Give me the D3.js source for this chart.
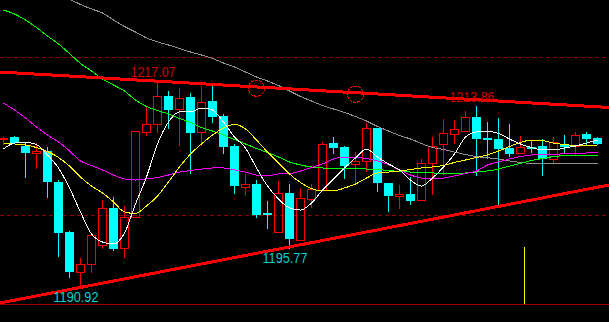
<!DOCTYPE html>
<html>
<head>
<meta charset="utf-8">
<script src="https://cdn.jsdelivr.net/npm/d3@7/dist/d3.min.js"></script>
<style>
	html, body { margin: 0; padding: 0; background: #000; overflow: hidden; }
	svg { display: block; }
</style>
</head>
<body>
<svg id="chart" width="609" height="322"></svg>
<script>

// candle data (oldest -> newest)
var opens = [1209.62,1209.91,1208.73,1207.89,1208.10,1204.18,1197.85,1192.82,1193.76,1196.20,
	1200.85,1195.79,1199.71,1210.47,1211.48,1215.06,1213.38,1214.90,1210.47,1214.43,
	1212.53,1208.73,1203.58,1203.92,1200.29,1197.89,1202.78,1196.88,1202.06,1203.16,
	1209.07,1208.65,1206.42,1206.84,1211.05,1204.01,1202.44,1202.66,1201.86,1206.62,
	1208.95,1210.25,1210.67,1212.37,1209.78,1209.66,1208.52,1207.81,1208.65,1208.73,
	1207.09,1208.99,1208.77,1210.25,1209.78];
var highs = [1209.87,1210.04,1209.15,1209.07,1208.65,1204.43,1197.97,1194.60,1197.47,1201.90,
	1202.24,1201.14,1210.63,1213.71,1217.07,1215.70,1216.04,1215.40,1216.33,1216.33,
	1212.75,1208.99,1205.19,1204.43,1201.77,1204.30,1203.92,1203.25,1203.89,1209.28,
	1209.91,1208.73,1207.94,1211.68,1211.05,1204.01,1203.80,1204.85,1207.09,1209.83,
	1212.15,1212.02,1213.20,1213.86,1211.73,1212.28,1211.52,1210.00,1209.49,1209.66,
	1209.87,1210.12,1210.54,1210.47,1209.91];
var lows = [1208.99,1209.11,1204.85,1205.99,1202.32,1194.81,1192.19,1190.92,1192.82,1195.86,
	1195.57,1194.72,1199.71,1210.12,1210.47,1211.05,1208.82,1205.28,1208.86,1211.81,
	1207.81,1202.82,1202.62,1199.78,1198.39,1197.89,1195.77,1196.88,1201.05,1203.16,
	1207.81,1204.65,1204.09,1205.57,1203.04,1200.51,1200.85,1201.35,1201.86,1202.62,
	1205.19,1209.15,1210.67,1205.06,1207.25,1201.39,1207.47,1207.81,1207.94,1205.06,
	1206.55,1208.01,1207.68,1208.86,1208.95];
var closes = [1209.81,1209.15,1207.89,1208.10,1204.22,1197.76,1192.82,1193.76,1197.47,1200.85,
	1195.70,1199.78,1210.63,1211.48,1215.06,1213.29,1214.85,1210.42,1214.34,1212.44,
	1208.65,1203.71,1203.89,1199.96,1199.96,1202.75,1196.97,1202.11,1203.29,1208.95,
	1208.52,1206.24,1206.84,1211.01,1204.09,1202.44,1202.66,1201.77,1206.62,1208.77,
	1210.34,1210.89,1212.37,1209.66,1209.53,1208.35,1207.72,1208.61,1208.44,1207.09,
	1209.20,1208.61,1210.12,1209.62,1209.02];

// moving averages, one value per candle
var ma5 = [1208.35,1209.11,1209.18,1208.92,1207.60,1205.95,1203.42,1200.38,1197.60,1196.58,
	1196.33,1197.72,1201.39,1204.81,1208.99,1211.77,1213.04,1213.04,1213.54,1213.29,
	1211.77,1209.87,1208.48,1205.95,1203.67,1202.03,1200.89,1200.63,1201.52,1203.16,
	1204.56,1205.95,1207.22,1208.35,1207.34,1206.46,1205.70,1204.43,1203.67,1204.68,
	1206.08,1207.72,1209.87,1210.51,1210.57,1210.32,1209.62,1208.99,1208.54,1208.23,
	1208.23,1208.48,1208.73,1209.11,1209.49];
var ma10 = [1208.99,1208.99,1208.86,1208.54,1208.04,1207.28,1206.20,1204.81,1203.67,1202.78,
	1201.65,1200.38,1200.19,1201.14,1202.41,1204.18,1206.08,1207.72,1208.99,1210.12,
	1211.01,1211.46,1210.89,1209.49,1207.97,1206.58,1205.19,1204.11,1203.35,1203.04,
	1203.04,1203.42,1203.92,1204.68,1205.32,1205.44,1205.57,1205.76,1205.95,1206.08,
	1206.27,1206.65,1206.96,1207.28,1207.60,1208.10,1208.67,1209.18,1209.49,1209.43,
	1209.11,1208.92,1208.80,1208.86,1208.73];
var ma20 = [1214.18,1213.29,1212.28,1211.14,1210.12,1209.24,1208.10,1206.84,1206.27,1205.70,
	1205.06,1204.56,1204.43,1204.56,1204.75,1205.06,1205.44,1205.63,1205.82,1205.95,
	1205.95,1205.70,1205.44,1205.06,1204.94,1205.19,1205.25,1205.57,1206.01,1206.46,
	1207.09,1207.34,1207.28,1207.15,1206.84,1206.39,1205.70,1205.06,1204.68,1204.56,
	1204.68,1204.94,1205.25,1205.57,1206.33,1206.71,1207.09,1207.40,1207.60,1207.66,
	1207.68,1207.75,1207.81,1207.85,1207.94];
var ma30 = [1225.95,1225.44,1224.68,1223.73,1222.66,1221.65,1220.44,1219.18,1218.23,1217.22,
	1216.46,1215.70,1214.56,1213.73,1213.23,1212.79,1212.22,1211.71,1211.08,1210.63,
	1210.12,1209.56,1208.99,1208.42,1207.91,1207.34,1206.71,1206.33,1206.08,1205.95,
	1205.91,1205.91,1205.89,1205.82,1205.76,1205.63,1205.51,1205.44,1205.35,1205.32,
	1205.28,1205.28,1205.32,1205.44,1205.57,1205.82,1206.20,1206.52,1206.90,1207.15,
	1207.40,1207.51,1207.56,1207.56,1207.49];
var ma60 = [null,null,null,null,null,1228.10,1227.34,1226.65,1226.08,1225.57,
	1224.68,1223.86,1223.16,1222.41,1221.90,1221.52,1221.08,1220.63,1220.25,1219.81,
	1219.24,1218.73,1218.10,1217.47,1216.96,1216.39,1215.70,1215.00,1214.43,1213.86,
	1213.42,1212.97,1212.47,1211.90,1211.20,1210.63,1210.06,1209.62,1209.05,1208.54,
	1208.29,1207.97,1207.66,1207.40,1207.25,1207.09,1206.84,1206.65,1206.55,1206.55,
	1206.55,1206.55,1206.55,1206.55,1206.55];

// dashed price grid
var gridPrices = [1200, 1220];

// high / low labels
var markIndex = [14, 43, 26, 7];
var markText = ['1217.07', '1213.86', '1195.77', '1190.92'];
var markKind = ['high', 'high', 'low', 'low'];

// hand drawn trend lines: [candle index, price]
var trendUpper = [[-0.32, 1218.10], [55.05, 1213.61]];
var trendLower = [[-0.32, 1188.86], [55.05, 1203.80]];

// red circles on the upper trend line
var circleIndex = [23, 32];
var circlePrice = [1216.04, 1215.28];

// yellow cursor line
var cursorIndex = [47.32];
var cursorPrice = [1195.95];

var createChart = function (id) {

	var W = 609, H = 322, bottom = 304;
	var svg = d3.select(id);

	svg.append('rect')
		.attr('width', W)
		.attr('height', H)
		.attr('fill', '#000');

	svg.append('clipPath')
		.attr('id', 'plotClip')
		.append('rect')
		.attr('x', 0).attr('y', 0)
		.attr('width', W).attr('height', bottom);

	var n = closes.length;
	var x = d3.scaleLinear().domain([0, n - 1]).range([3.5, 3.5 + 11 * (n - 1)]);
	var y = d3.scaleLinear().domain([1200, 1220]).range([215, 57]);

	var candles = d3.range(n).map(function (i) {
		return { i: i, o: opens[i], h: highs[i], l: lows[i], c: closes[i], up: closes[i] >= opens[i] };
	});

	var crisp = function (v) { return Math.round(v) + 0.5; };

	// grid
	svg.selectAll('line.grid')
		.data(gridPrices)
		.enter()
		.append('line')
		.attr('class', 'grid')
		.attr('x1', 0).attr('x2', W)
		.attr('y1', function (d) { return crisp(y(d)); })
		.attr('y2', function (d) { return crisp(y(d)); })
		.attr('stroke', '#900000')
		.attr('stroke-dasharray', '4,3');

	// bottom frame line
	svg.append('line')
		.attr('x1', 0).attr('x2', W)
		.attr('y1', bottom + 0.5).attr('y2', bottom + 0.5)
		.attr('stroke', '#a00000');

	var plot = svg.append('g').attr('clip-path', 'url(#plotClip)');

	// wicks
	var up = candles.filter(function (d) { return d.up; });
	var down = candles.filter(function (d) { return !d.up; });

	plot.selectAll('line.wickTop')
		.data(up)
		.enter()
		.append('line')
		.attr('x1', function (d) { return x(d.i); })
		.attr('x2', function (d) { return x(d.i); })
		.attr('y1', function (d) { return Math.round(y(d.h)); })
		.attr('y2', function (d) { return Math.round(y(d.c)); })
		.attr('stroke', '#ff0000');

	plot.selectAll('line.wickBottom')
		.data(up)
		.enter()
		.append('line')
		.attr('x1', function (d) { return x(d.i); })
		.attr('x2', function (d) { return x(d.i); })
		.attr('y1', function (d) { return Math.round(y(d.o)); })
		.attr('y2', function (d) { return Math.round(y(d.l)) + 1; })
		.attr('stroke', '#ff0000');

	plot.selectAll('line.wickDown')
		.data(down)
		.enter()
		.append('line')
		.attr('x1', function (d) { return x(d.i); })
		.attr('x2', function (d) { return x(d.i); })
		.attr('y1', function (d) { return Math.round(y(d.h)); })
		.attr('y2', function (d) { return Math.round(y(d.l)) + 1; })
		.attr('stroke', '#00ffff');

	// bodies: red hollow, cyan filled
	plot.selectAll('rect.up')
		.data(up)
		.enter()
		.append('rect')
		.attr('x', function (d) { return x(d.i) - 4; })
		.attr('y', function (d) { return crisp(y(d.c)); })
		.attr('width', 8)
		.attr('height', function (d) { return Math.max(1, Math.round(y(d.o)) - Math.round(y(d.c))); })
		.attr('fill', 'none')
		.attr('stroke', '#ff0000');

	plot.selectAll('rect.down')
		.data(down)
		.enter()
		.append('rect')
		.attr('x', function (d) { return x(d.i) - 4.5; })
		.attr('y', function (d) { return Math.round(y(d.o)); })
		.attr('width', 9)
		.attr('height', function (d) { return Math.max(2, Math.round(y(d.c)) - Math.round(y(d.o))); })
		.attr('fill', '#00ffff');

	// moving averages
	var maList = [
		{ v: ma60, color: '#909090' },
		{ v: ma30, color: '#00ff00' },
		{ v: ma20, color: '#ff00ff' },
		{ v: ma10, color: '#ffff00' },
		{ v: ma5, color: '#ffffff' }
	];

	var line = d3.line()
		.defined(function (d) { return d != null; })
		.x(function (d, i) { return x(i); })
		.y(function (d) { return y(d); })
		.curve(d3.curveMonotoneX);

	plot.selectAll('path.ma')
		.data(maList)
		.enter()
		.append('path')
		.attr('d', function (d) { return line(d.v); })
		.attr('fill', 'none')
		.attr('stroke', function (d) { return d.color; })
		.attr('stroke-width', 1)
		.attr('shape-rendering', 'crispEdges');

	// trend lines
	plot.selectAll('line.trend')
		.data([trendUpper, trendLower])
		.enter()
		.append('line')
		.attr('x1', function (d) { return x(d[0][0]); })
		.attr('y1', function (d) { return y(d[0][1]); })
		.attr('x2', function (d) { return x(d[1][0]); })
		.attr('y2', function (d) { return y(d[1][1]); })
		.attr('stroke', '#ff0000')
		.attr('stroke-width', 3)
		.attr('shape-rendering', 'crispEdges');

	plot.selectAll('circle.mark')
		.data(circleIndex)
		.enter()
		.append('circle')
		.attr('cx', function (d) { return x(d); })
		.attr('cy', function (d, i) { return y(circlePrice[i]); })
		.attr('r', 8)
		.attr('fill', 'none')
		.attr('stroke', '#ff0000')
		.attr('stroke-dasharray', '3,1')
		.attr('shape-rendering', 'crispEdges');

	// cursor
	svg.selectAll('line.cursor')
		.data(cursorIndex)
		.enter()
		.append('line')
		.attr('x1', function (d) { return crisp(x(d)); })
		.attr('x2', function (d) { return crisp(x(d)); })
		.attr('y1', function (d, i) { return Math.round(y(cursorPrice[i])); })
		.attr('y2', bottom)
		.attr('stroke', '#ffff00');

	// high / low labels
	svg.selectAll('text.mark')
		.data(markIndex)
		.enter()
		.append('text')
		.attr('x', function (d) { return x(d) - 4.5; })
		.attr('y', function (d, i) {
			return markKind[i] == 'high' ? y(highs[d]) - 3.5 : y(lows[d]) + 15;
		})
		.attr('text-anchor', 'middle')
		.attr('textLength', 45)
		.attr('lengthAdjust', 'spacingAndGlyphs')
		.attr('font-family', 'Liberation Sans, Arial, sans-serif')
		.attr('font-size', 14)
		.attr('fill', function (d, i) { return markKind[i] == 'high' ? '#d00000' : '#00d0d0'; })
		.text(function (d, i) { return markText[i]; });
}

window.onload = function () {
	createChart('#chart');
}
</script>
</body>
</html>
